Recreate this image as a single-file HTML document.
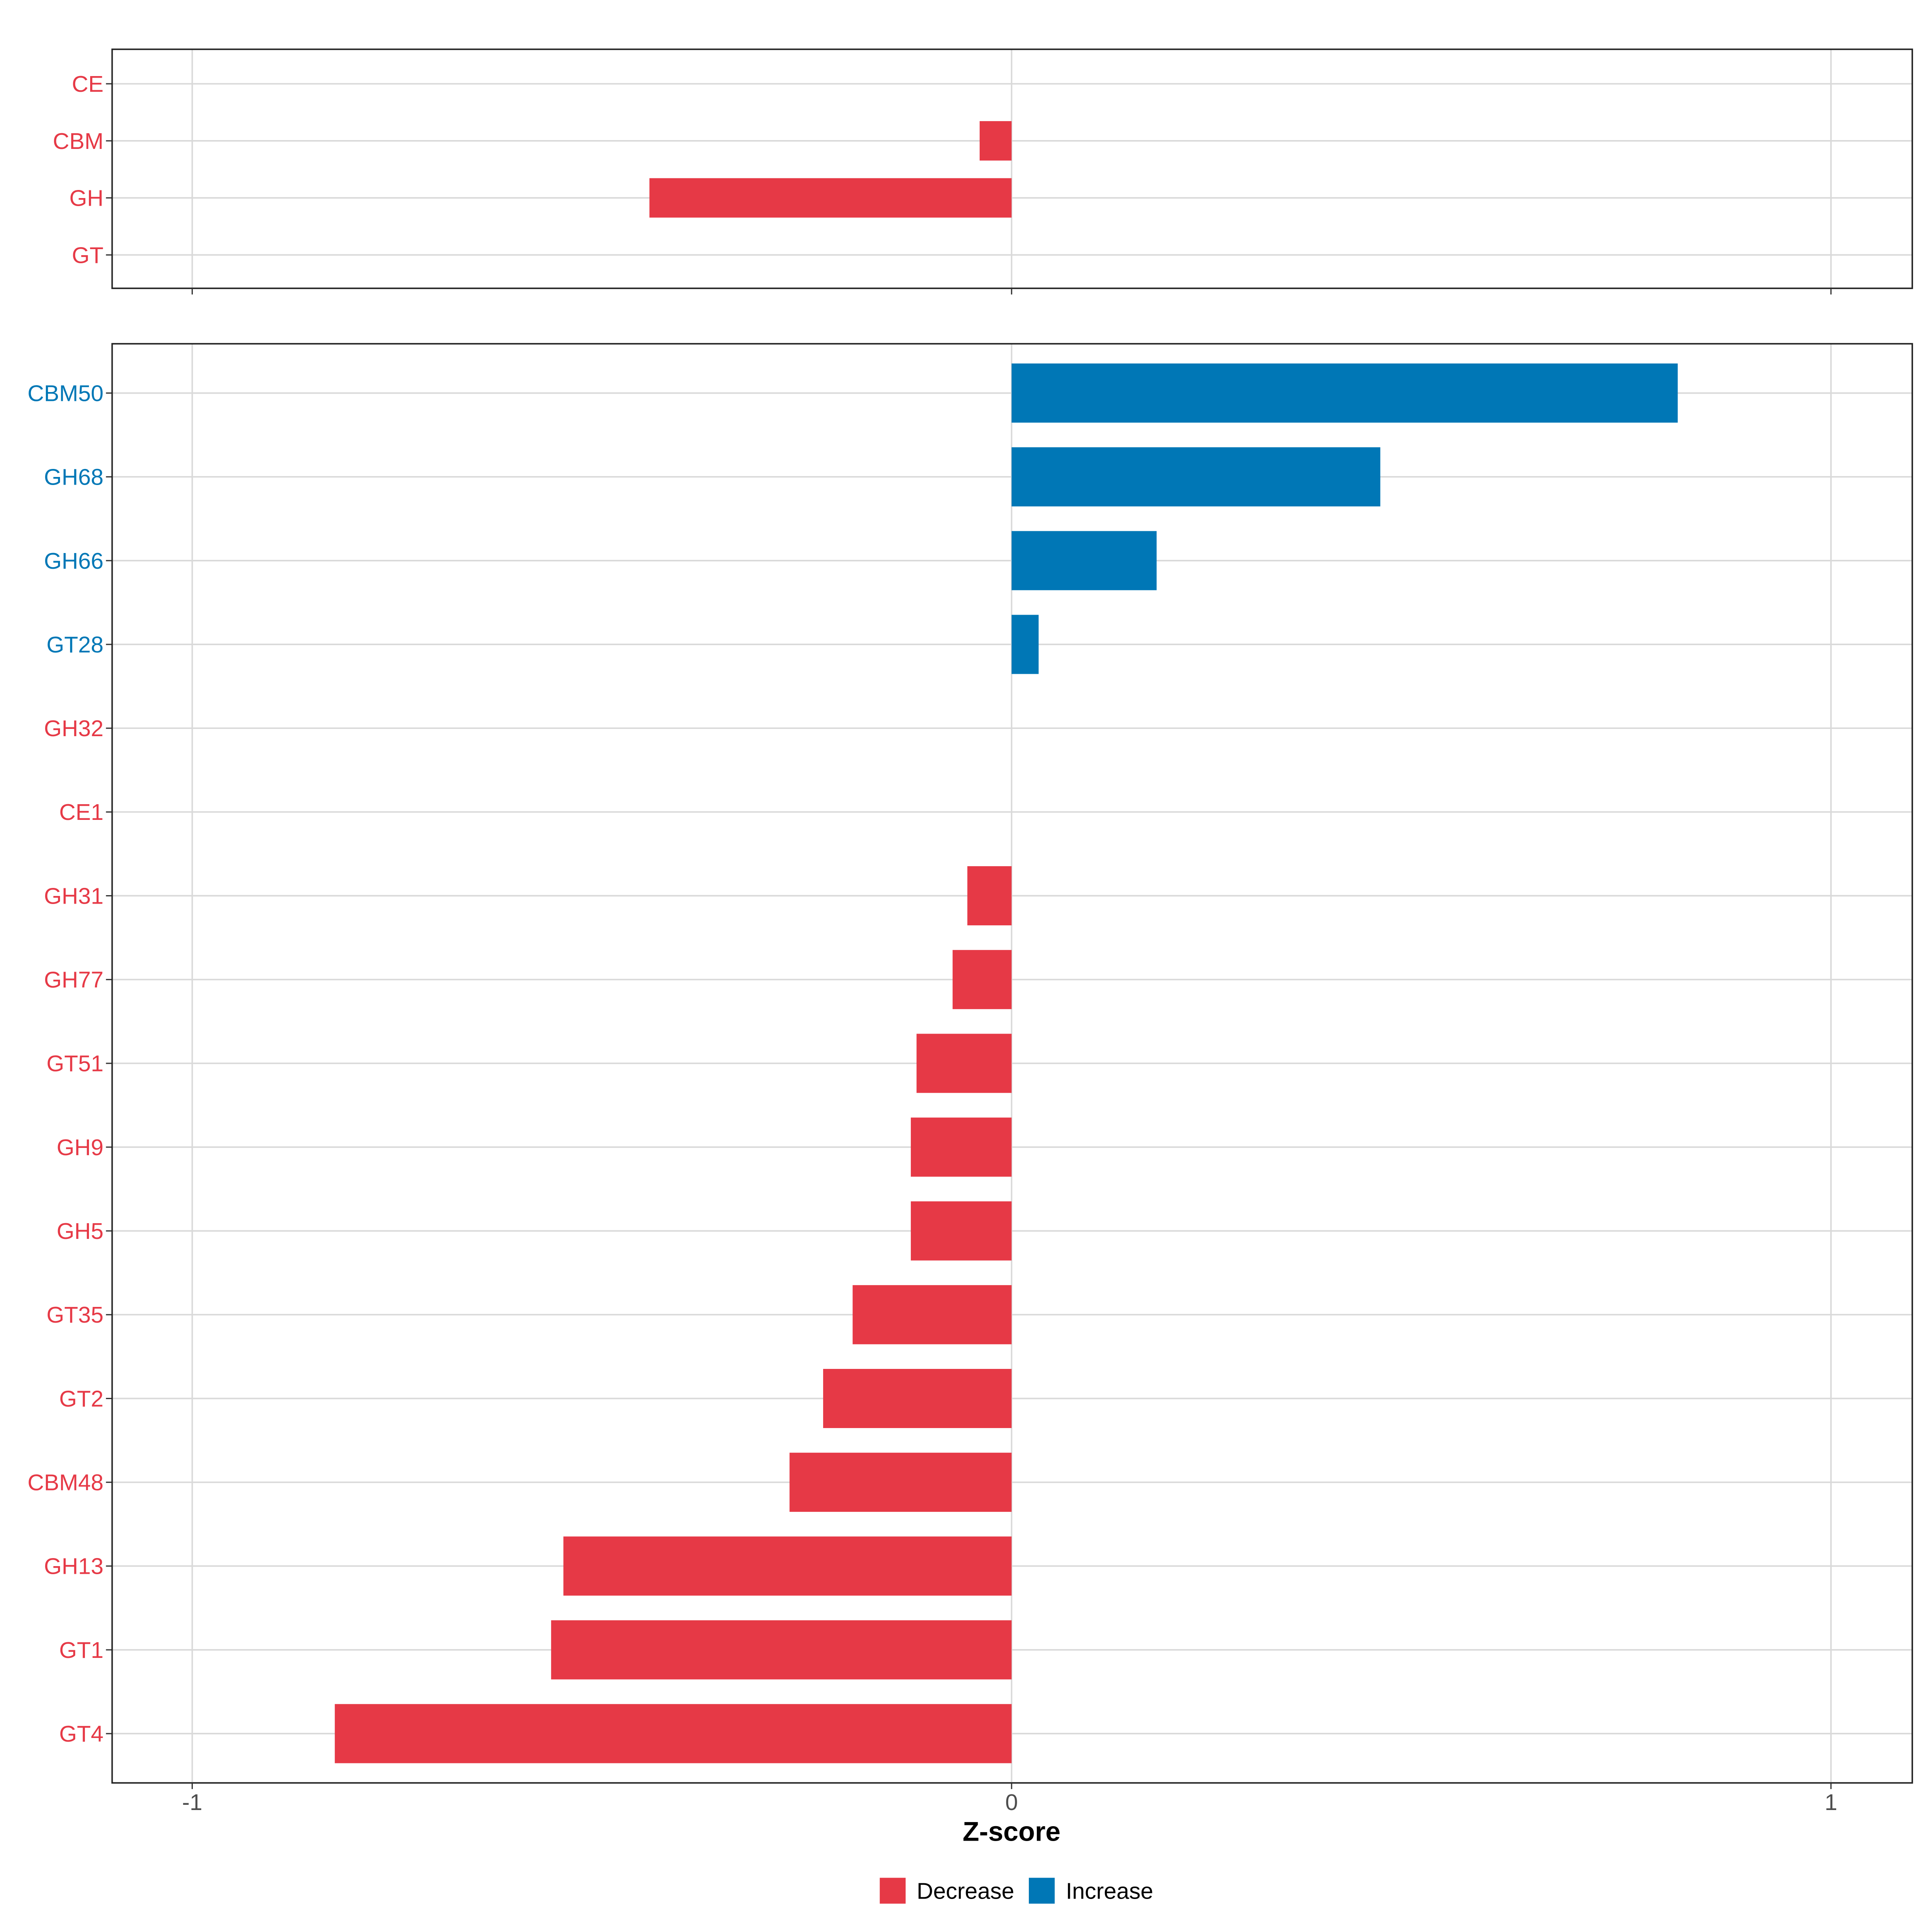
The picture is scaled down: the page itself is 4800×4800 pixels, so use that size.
<!DOCTYPE html>
<html><head><meta charset="utf-8"><style>html,body{margin:0;padding:0;background:#fff}svg{display:block}</style></head>
<body>
<svg id="chart" width="4800" height="4800" viewBox="0 0 1568 1568" xmlns="http://www.w3.org/2000/svg" font-family="Liberation Sans, sans-serif"></svg>
<script>
const topCategories = ["CE","CBM","GH","GT"];
const topValues = [0.0, -0.039, -0.442, 0.0];
const bottomCategories = ["CBM50","GH68","GH66","GT28","GH32","CE1","GH31","GH77","GT51","GH9","GH5","GT35","GT2","CBM48","GH13","GT1","GT4"];
const bottomValues = [0.813, 0.450, 0.177, 0.033, 0.0, 0.0, -0.054, -0.072, -0.116, -0.123, -0.123, -0.194, -0.230, -0.271, -0.547, -0.562, -0.826];
const xTicks = [-1, 0, 1];
const xTickLabels = ["-1", "0", "1"];

const RED = "#E63946", BLUE = "#0077B6", GRID = "#D9D9D9";
const svg = document.getElementById('chart');
const NS = "http://www.w3.org/2000/svg";
function mk(tag, attrs, parent){const e=document.createElementNS(NS,tag);for(const k in attrs)e.setAttribute(k,attrs[k]);(parent||svg).appendChild(e);return e;}
const x = v => 821 + v*665;
const PL = 91, PR = 1552;

function panel(name, top, bottom, cats, vals, rowY, barH, isTop){
  const g = mk('g', {});
  
  
  xTicks.forEach(t => {
    const l = mk('line', {x1:x(t), x2:x(t), y1:top, y2:bottom, stroke:GRID, 'stroke-width':1.2}, g);
    
    
  });
  cats.forEach((c,i) => {
    const y = rowY(i);
    const l = mk('line', {x1:PL, x2:PR, y1:y, y2:y, stroke:GRID, 'stroke-width':1.2}, g);
    
    
    const v = vals[i];
    const col = v > 0 ? BLUE : RED;
    const b = mk('rect', {x:Math.min(x(0),x(v)), y:y-barH/2, width:Math.abs(x(v)-x(0)), height:barH, fill:col}, g);
    
    
    const tk = mk('line', {x1:PL-5, x2:PL, y1:y, y2:y, stroke:'#333', 'stroke-width':1}, g);
    
    
    const t = mk('text', {x:PL-7, y:y+6.5, 'text-anchor':'end', 'font-size':18.5, fill:col}, g);
    t.textContent = c;
    
    
  });
  const r = mk('rect', {x:PL, y:top, width:PR-PL, height:bottom-top, fill:'none', stroke:'#222', 'stroke-width':1.2}, g);
  
  
  xTicks.forEach((t,i) => {
    const l = mk('line', {x1:x(t), x2:x(t), y1:bottom, y2:bottom+5, stroke:'#333', 'stroke-width':1}, g);
    
    
    if(!isTop){
      const tx = mk('text', {x:x(t), y:bottom+22, 'text-anchor':'middle', 'font-size':18.5, fill:'#4d4d4d'}, g);
      tx.textContent = xTickLabels[i];
      
      
    }
  });
}
panel('top-panel', 40, 234, topCategories, topValues, i => 68 + i*46.3, 32, true);
panel('bottom-panel', 279, 1447, bottomCategories, bottomValues, i => 319 + i*68, 48, false);

const title = mk('text', {x:821, y:1494, 'text-anchor':'middle', 'font-size':22, 'font-weight':'bold', fill:'#000'});
title.textContent = 'Z-score';



const legend = mk('g', {});


const r1 = mk('rect', {x:714, y:1524, width:21, height:21, fill:RED}, legend);


const t1 = mk('text', {x:744, y:1541, 'font-size':18.5, fill:'#000'}, legend);
t1.textContent = 'Decrease';


const r2 = mk('rect', {x:835, y:1524, width:21, height:21, fill:BLUE}, legend);


const t2 = mk('text', {x:865, y:1541, 'font-size':18.5, fill:'#000'}, legend);
t2.textContent = 'Increase';


</script>
</body></html>
